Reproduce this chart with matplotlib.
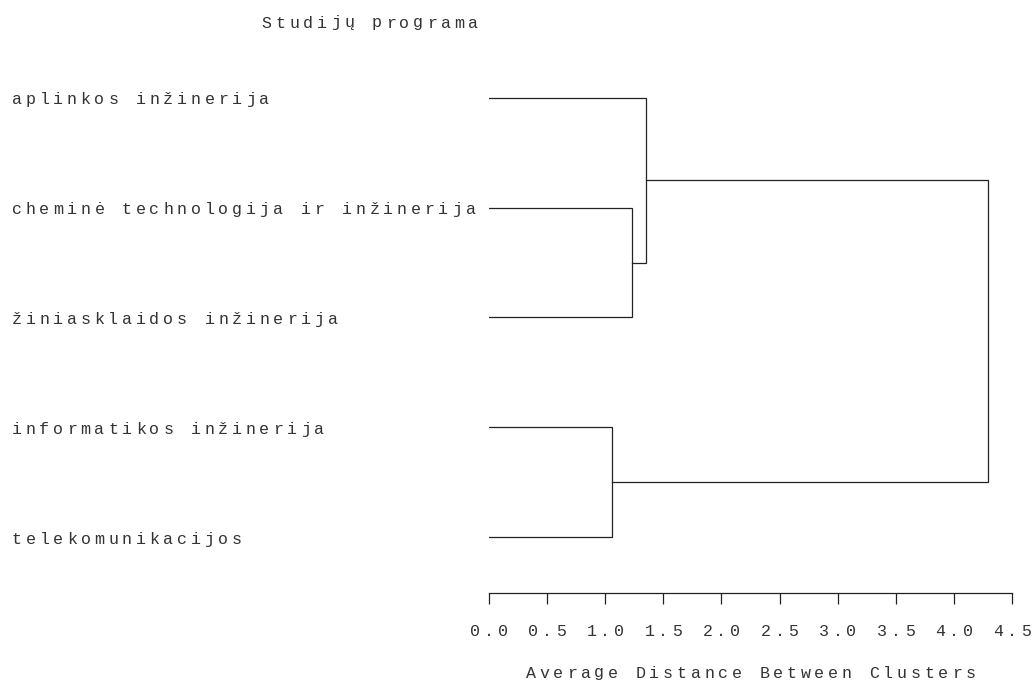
import matplotlib
matplotlib.use("Agg")
import matplotlib.pyplot as plt
import matplotlib.transforms as mtransforms

# Leaves in display order (top to bottom) and the agglomeration steps.
leaves = [
    "aplinkos inžinerija",
    "cheminė technologija ir inžinerija",
    "žiniasklaidos inžinerija",
    "informatikos inžinerija",
    "telekomunikacijos",
]
# (left child, right child, distance); ids >= len(leaves) refer to earlier merges
merges = [
    (1, 2, 1.23),
    (0, 5, 1.35),
    (3, 4, 1.06),
    (6, 7, 4.29),
]
x_ticks = [0.0, 0.5, 1.0, 1.5, 2.0, 2.5, 3.0, 3.5, 4.0, 4.5]
title = "Studijų programa"
x_label = "Average Distance Between Clusters"

FONT = "Liberation Mono"
FONT_SIZE = 12
PITCH = 13.75  # px per character, SAS-style tracking
LINE_COLOR = "#222222"
TEXT_COLOR = "#333333"

W, H = 1032, 682
fig = plt.figure(figsize=(W / 100, H / 100), dpi=100)
ax = fig.add_axes([489 / W, 1 - 593 / H, 523 / W, (593 - 43) / H])


def spaced_text(x, y, s, transform, ha="left", va="center"):
    """Draw a string one glyph per fixed-width cell so letter spacing is wide."""
    n = len(s)
    if ha == "left":
        start = 0.0
    elif ha == "center":
        start = -n * PITCH / 2
    else:
        start = -n * PITCH
    for i, ch in enumerate(s):
        if ch == " ":
            continue
        tr = mtransforms.offset_copy(transform, fig=fig,
                                     x=start + (i + 0.5) * PITCH, y=0,
                                     units="dots")
        fig.text(x, y, ch, transform=tr, ha="center", va=va,
                 family=FONT, fontsize=FONT_SIZE, color=TEXT_COLOR)


# Dendrogram links
pos = {i: (float(i), 0.0) for i in range(len(leaves))}
for k, (a, b, h) in enumerate(merges):
    ya, ha_ = pos[a]
    yb, hb = pos[b]
    ax.plot([ha_, h, h, hb], [ya, ya, yb, yb], color=LINE_COLOR,
            lw=0.9, solid_joinstyle="miter")
    pos[len(leaves) + k] = ((ya + yb) / 2, h)

ax.set_xlim(x_ticks[0], x_ticks[-1])
ax.set_ylim(4.51, -0.5)
for side in ("top", "right", "left"):
    ax.spines[side].set_visible(False)
ax.spines["bottom"].set_color(LINE_COLOR)
ax.spines["bottom"].set_linewidth(0.9)
ax.set_yticks([])
ax.set_xticks(x_ticks)
ax.set_xticklabels([])
ax.tick_params(axis="x", direction="out", length=8, width=0.9,
               color=LINE_COLOR)

# Leaf labels at the left edge of the figure
leaf_tr = mtransforms.blended_transform_factory(fig.transFigure, ax.transData)
leaf_tr = mtransforms.offset_copy(leaf_tr, fig=fig, x=0, y=-2, units="dots")
for i, name in enumerate(leaves):
    spaced_text(10 / W, i, name, leaf_tr, ha="left", va="center")

# Tick labels under the distance axis
tick_tr = mtransforms.blended_transform_factory(ax.transData, fig.transFigure)
for t in x_ticks:
    spaced_text(t, 1 - 631 / H, f"{t:.1f}", tick_tr, ha="center")

spaced_text(0.5, 1 - 673 / H, x_label,
            mtransforms.blended_transform_factory(ax.transAxes, fig.transFigure),
            ha="center")
spaced_text(260 / W, 1 - 23 / H, title, fig.transFigure, ha="left")

fig.savefig("out.png", dpi=100, facecolor="white")
